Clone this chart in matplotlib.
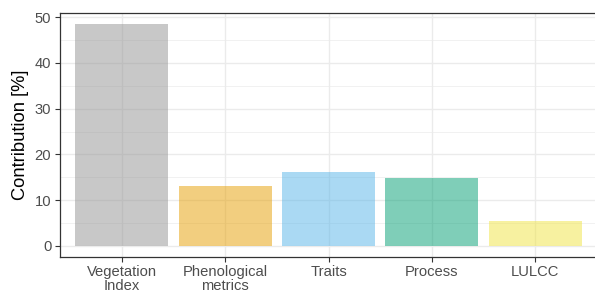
import matplotlib.pyplot as plt
import numpy as np

categories = ["Vegetation\nIndex", "Phenological\nmetrics", "Traits", "Process", "LULCC"]
contribution = [48.5, 13.0, 16.1, 14.8, 5.4]
colors = ["#929292", "#E69F00", "#56B4E9", "#009E73", "#F0E442"]

plt.rcParams['font.family'] = ['Liberation Sans', 'DejaVu Sans']

fig = plt.figure(figsize=(5.95, 2.93), dpi=100)
ax = fig.add_axes([60 / 595, 1 - 257 / 293, 537 / 595, 244 / 293])

x = np.arange(len(categories))
ax.set_axisbelow(True)
ax.bar(x, contribution, width=0.9, color=colors, alpha=0.5, linewidth=0, zorder=2)

ax.set_xlim(-0.6, len(categories) - 0.4)
ymax = max(contribution)
ax.set_ylim(-0.05 * ymax, ymax * 1.05)

# ggplot theme_bw style grid
ax.set_yticks([0, 10, 20, 30, 40, 50])
ax.set_yticks([5, 15, 25, 35, 45], minor=True)
ax.set_xticks(x, categories)
ax.grid(which='major', color='#EBEBEB', linewidth=1.0, zorder=0)
ax.grid(which='minor', axis='y', color='#EBEBEB', linewidth=0.5, zorder=0)
ax.tick_params(which='minor', length=0)
ax.tick_params(which='major', length=3.8, width=0.8, color='#333333',
               labelcolor='#4D4D4D', labelsize=10.6, pad=2.5)
ax.tick_params(axis='x', pad=2)
for sp in ax.spines.values():
    sp.set_color('#333333')
    sp.set_linewidth(0.9)
ax.spines['right'].set_visible(False)

for lbl in ax.get_xticklabels():
    lbl.set_linespacing(1.04)

ax.set_ylabel("Contribution [%]", fontsize=13.2, color='black', labelpad=4)

fig.savefig("out.png", dpi=100)
